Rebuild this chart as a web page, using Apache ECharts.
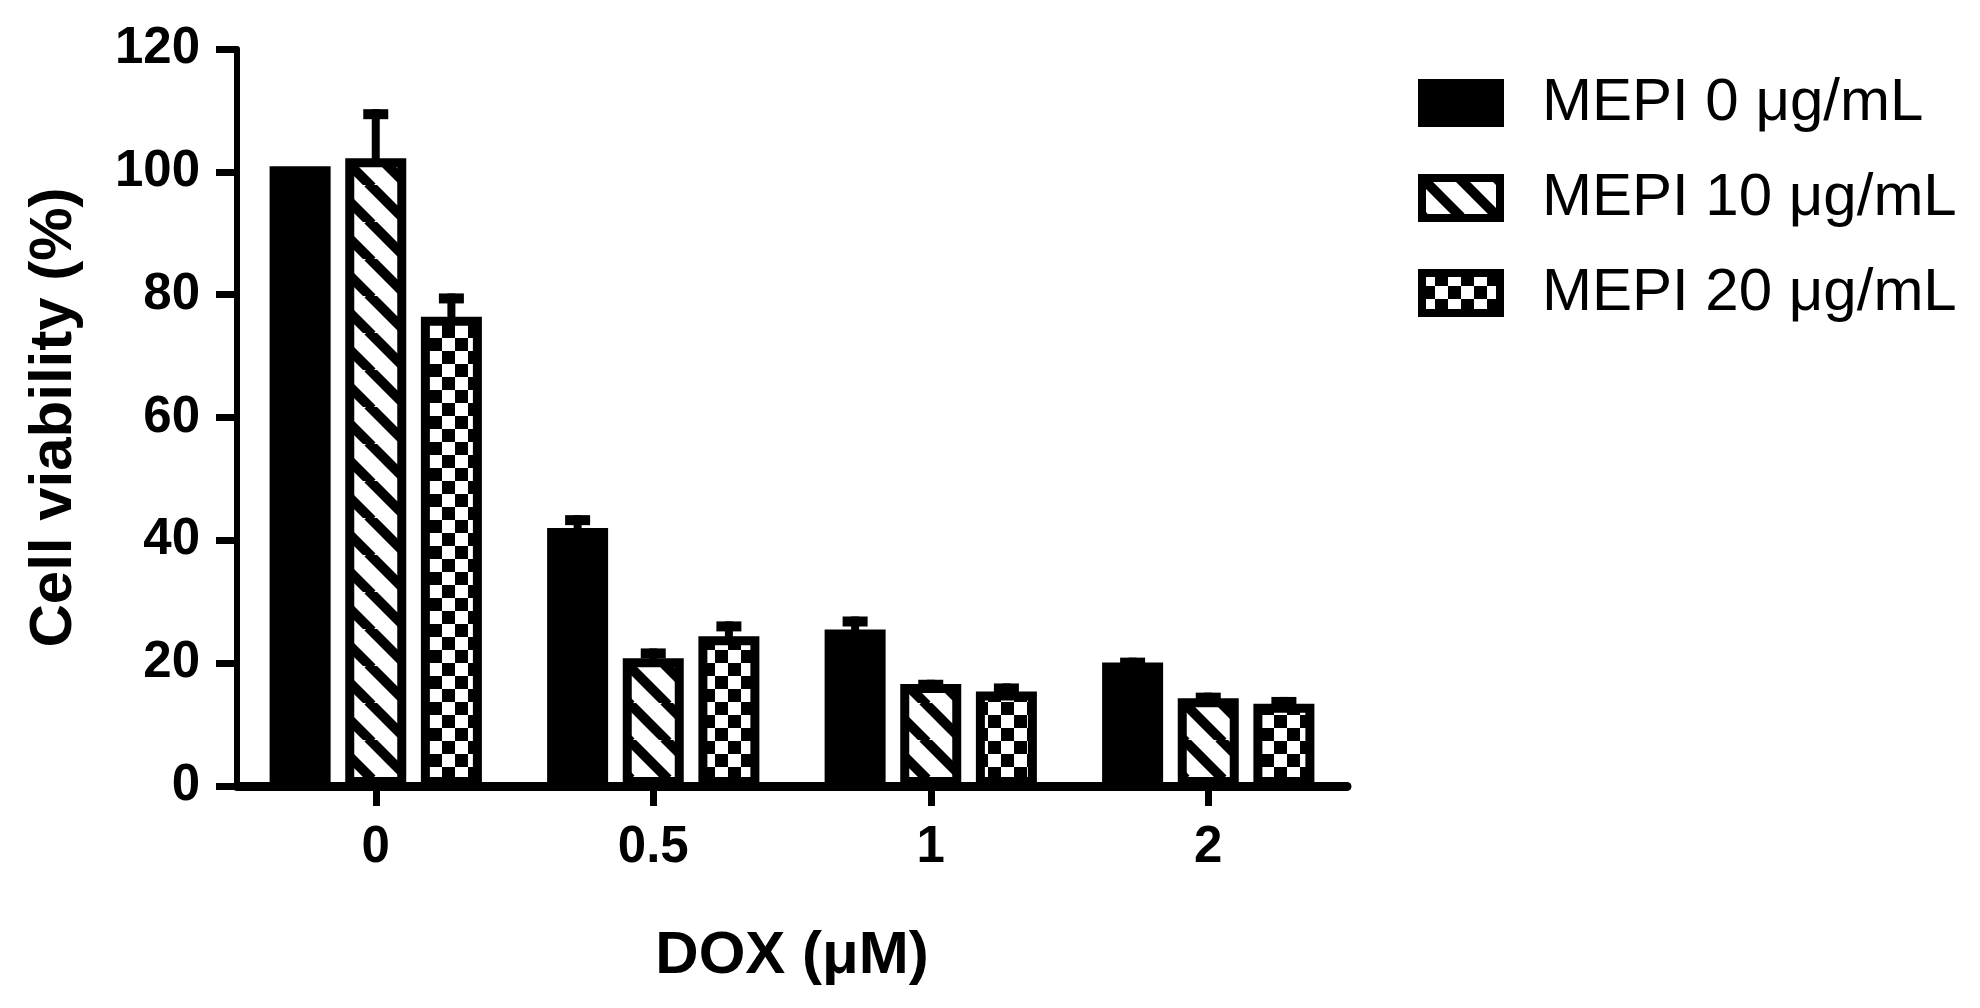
<!DOCTYPE html>
<html>
<head>
<meta charset="utf-8">
<script src="https://cdn.jsdelivr.net/npm/echarts@6/dist/echarts.min.js"></script>
<style>
html,body{margin:0;padding:0;background:#fff;}
#chart{width:1980px;height:1008px;}
</style>
</head>
<body>
<div id="chart"></div>
<script>
// ---- data ----
const categories = ['0', '0.5', '1', '2'];
const seriesNames = ['MEPI 0 μg/mL', 'MEPI 10 μg/mL', 'MEPI 20 μg/mL'];
const mepi0 = [100.9, 42.0, 25.5, 20.1];
const mepi10 = [102.2, 20.8, 16.6, 14.3];
const mepi20 = [76.4, 24.4, 15.4, 13.4];
const err0 = [0, 2.1, 2.1, 0.8];
const err10 = [8.0, 1.6, 0.7, 0.9];
const err20 = [3.8, 2.4, 1.3, 1.1];
const yTicks = { min: 0, max: 120, interval: 20 };

// ---- styles ----
const FONT = "'Liberation Sans', Arial, sans-serif";
const BAR_W = 61;
const GAP_FRAC = 0.24;
const BORDER = 9;

function stripePattern(P, lw) {
  const c = document.createElement('canvas');
  c.width = P; c.height = P;
  const g = c.getContext('2d');
  g.fillStyle = '#fff'; g.fillRect(0, 0, P, P);
  g.strokeStyle = '#000'; g.lineWidth = lw;
  for (const k of [-P, 0, P]) {
    g.beginPath(); g.moveTo(k - 2, -2); g.lineTo(k + P + 2, P + 2); g.stroke();
  }
  return c;
}
function checkerPattern(S) {
  const c = document.createElement('canvas');
  c.width = 2 * S; c.height = 2 * S;
  const g = c.getContext('2d');
  g.fillStyle = '#fff'; g.fillRect(0, 0, 2 * S, 2 * S);
  g.fillStyle = '#000';
  g.fillRect(S, 0, S, S);
  g.fillRect(0, S, S, S);
  return c;
}
const fills = [
  '#000',
  { image: stripePattern(37, 10), repeat: 'repeat' },
  { image: checkerPattern(13), repeat: 'repeat' }
];
const values = [mepi0, mepi10, mepi20];
const errors = [err0, err10, err20];

const barSeries = values.map((vals, i) => ({
  name: seriesNames[i],
  type: 'bar',
  data: vals,
  barWidth: BAR_W,
  barGap: (GAP_FRAC * 100) + '%',
  itemStyle: { color: fills[i], borderColor: '#000', borderWidth: BORDER },
  emphasis: { disabled: true },
  z: 2
}));

const errSeries = errors.map((errs, i) => ({
  name: 'err' + i,
  type: 'custom',
  z: 3,
  data: errs.map((e, ci) => [ci, values[i][ci], e]),
  encode: { x: 0, y: 1 },
  renderItem: function (params, api) {
    const ci = api.value(0), v = api.value(1), e = api.value(2);
    if (!e) return null;
    const off = (i - 1) * BAR_W * (1 + GAP_FRAC);
    const p0 = api.coord([ci, v]);
    const p1 = api.coord([ci, v + e]);
    const x = p0[0] + off;
    return {
      type: 'group',
      children: [
        { type: 'rect', shape: { x: x - 4, y: p1[1], width: 8, height: p0[1] - p1[1] + 2 }, style: { fill: '#000' } },
        { type: 'rect', shape: { x: x - 12.5, y: p1[1], width: 25, height: 10 }, style: { fill: '#000' } }
      ]
    };
  }
}));

const chart = echarts.init(document.getElementById('chart'), null, { renderer: 'canvas' });
chart.setOption({
  animation: false,
  backgroundColor: '#fff',
  grid: { left: 237, right: 633, top: 49, bottom: 222 },
  legend: {
    data: seriesNames,
    orient: 'vertical',
    left: 1418,
    top: 73,
    padding: 0,
    itemWidth: 78,
    itemHeight: 40,
    itemGap: 35,
    icon: 'rect',
    itemStyle: { borderWidth: 8, borderColor: '#000' },
    textStyle: { fontFamily: FONT, fontSize: 60, color: '#000', padding: [0, 0, 0, 37] }
  },
  xAxis: {
    type: 'category',
    data: categories,
    name: 'DOX (μM)',
    nameLocation: 'middle',
    nameGap: 140,
    nameTextStyle: { fontFamily: FONT, fontSize: 60, fontWeight: 'bold', color: '#000' },
    axisLine: { lineStyle: { color: '#000', width: 9 } },
    axisTick: { show: true, alignWithLabel: true, length: 20, lineStyle: { color: '#000', width: 7 } },
    axisLabel: { fontFamily: FONT, fontSize: 51, fontWeight: 'bold', color: '#000', margin: 36 },
    splitLine: { show: false }
  },
  yAxis: {
    type: 'value',
    min: yTicks.min, max: yTicks.max, interval: yTicks.interval,
    name: 'Cell viability (%)',
    nameLocation: 'middle',
    nameGap: 153,
    nameTextStyle: { fontFamily: FONT, fontSize: 60, fontWeight: 'bold', color: '#000' },
    axisLine: { show: true, lineStyle: { color: '#000', width: 6 } },
    axisTick: { show: true, length: 21, lineStyle: { color: '#000', width: 7 } },
    axisLabel: { fontFamily: FONT, fontSize: 51, fontWeight: 'bold', color: '#000', margin: 37 },
    splitLine: { show: false }
  },
  series: barSeries.concat(errSeries)
});
</script>
</body>
</html>
